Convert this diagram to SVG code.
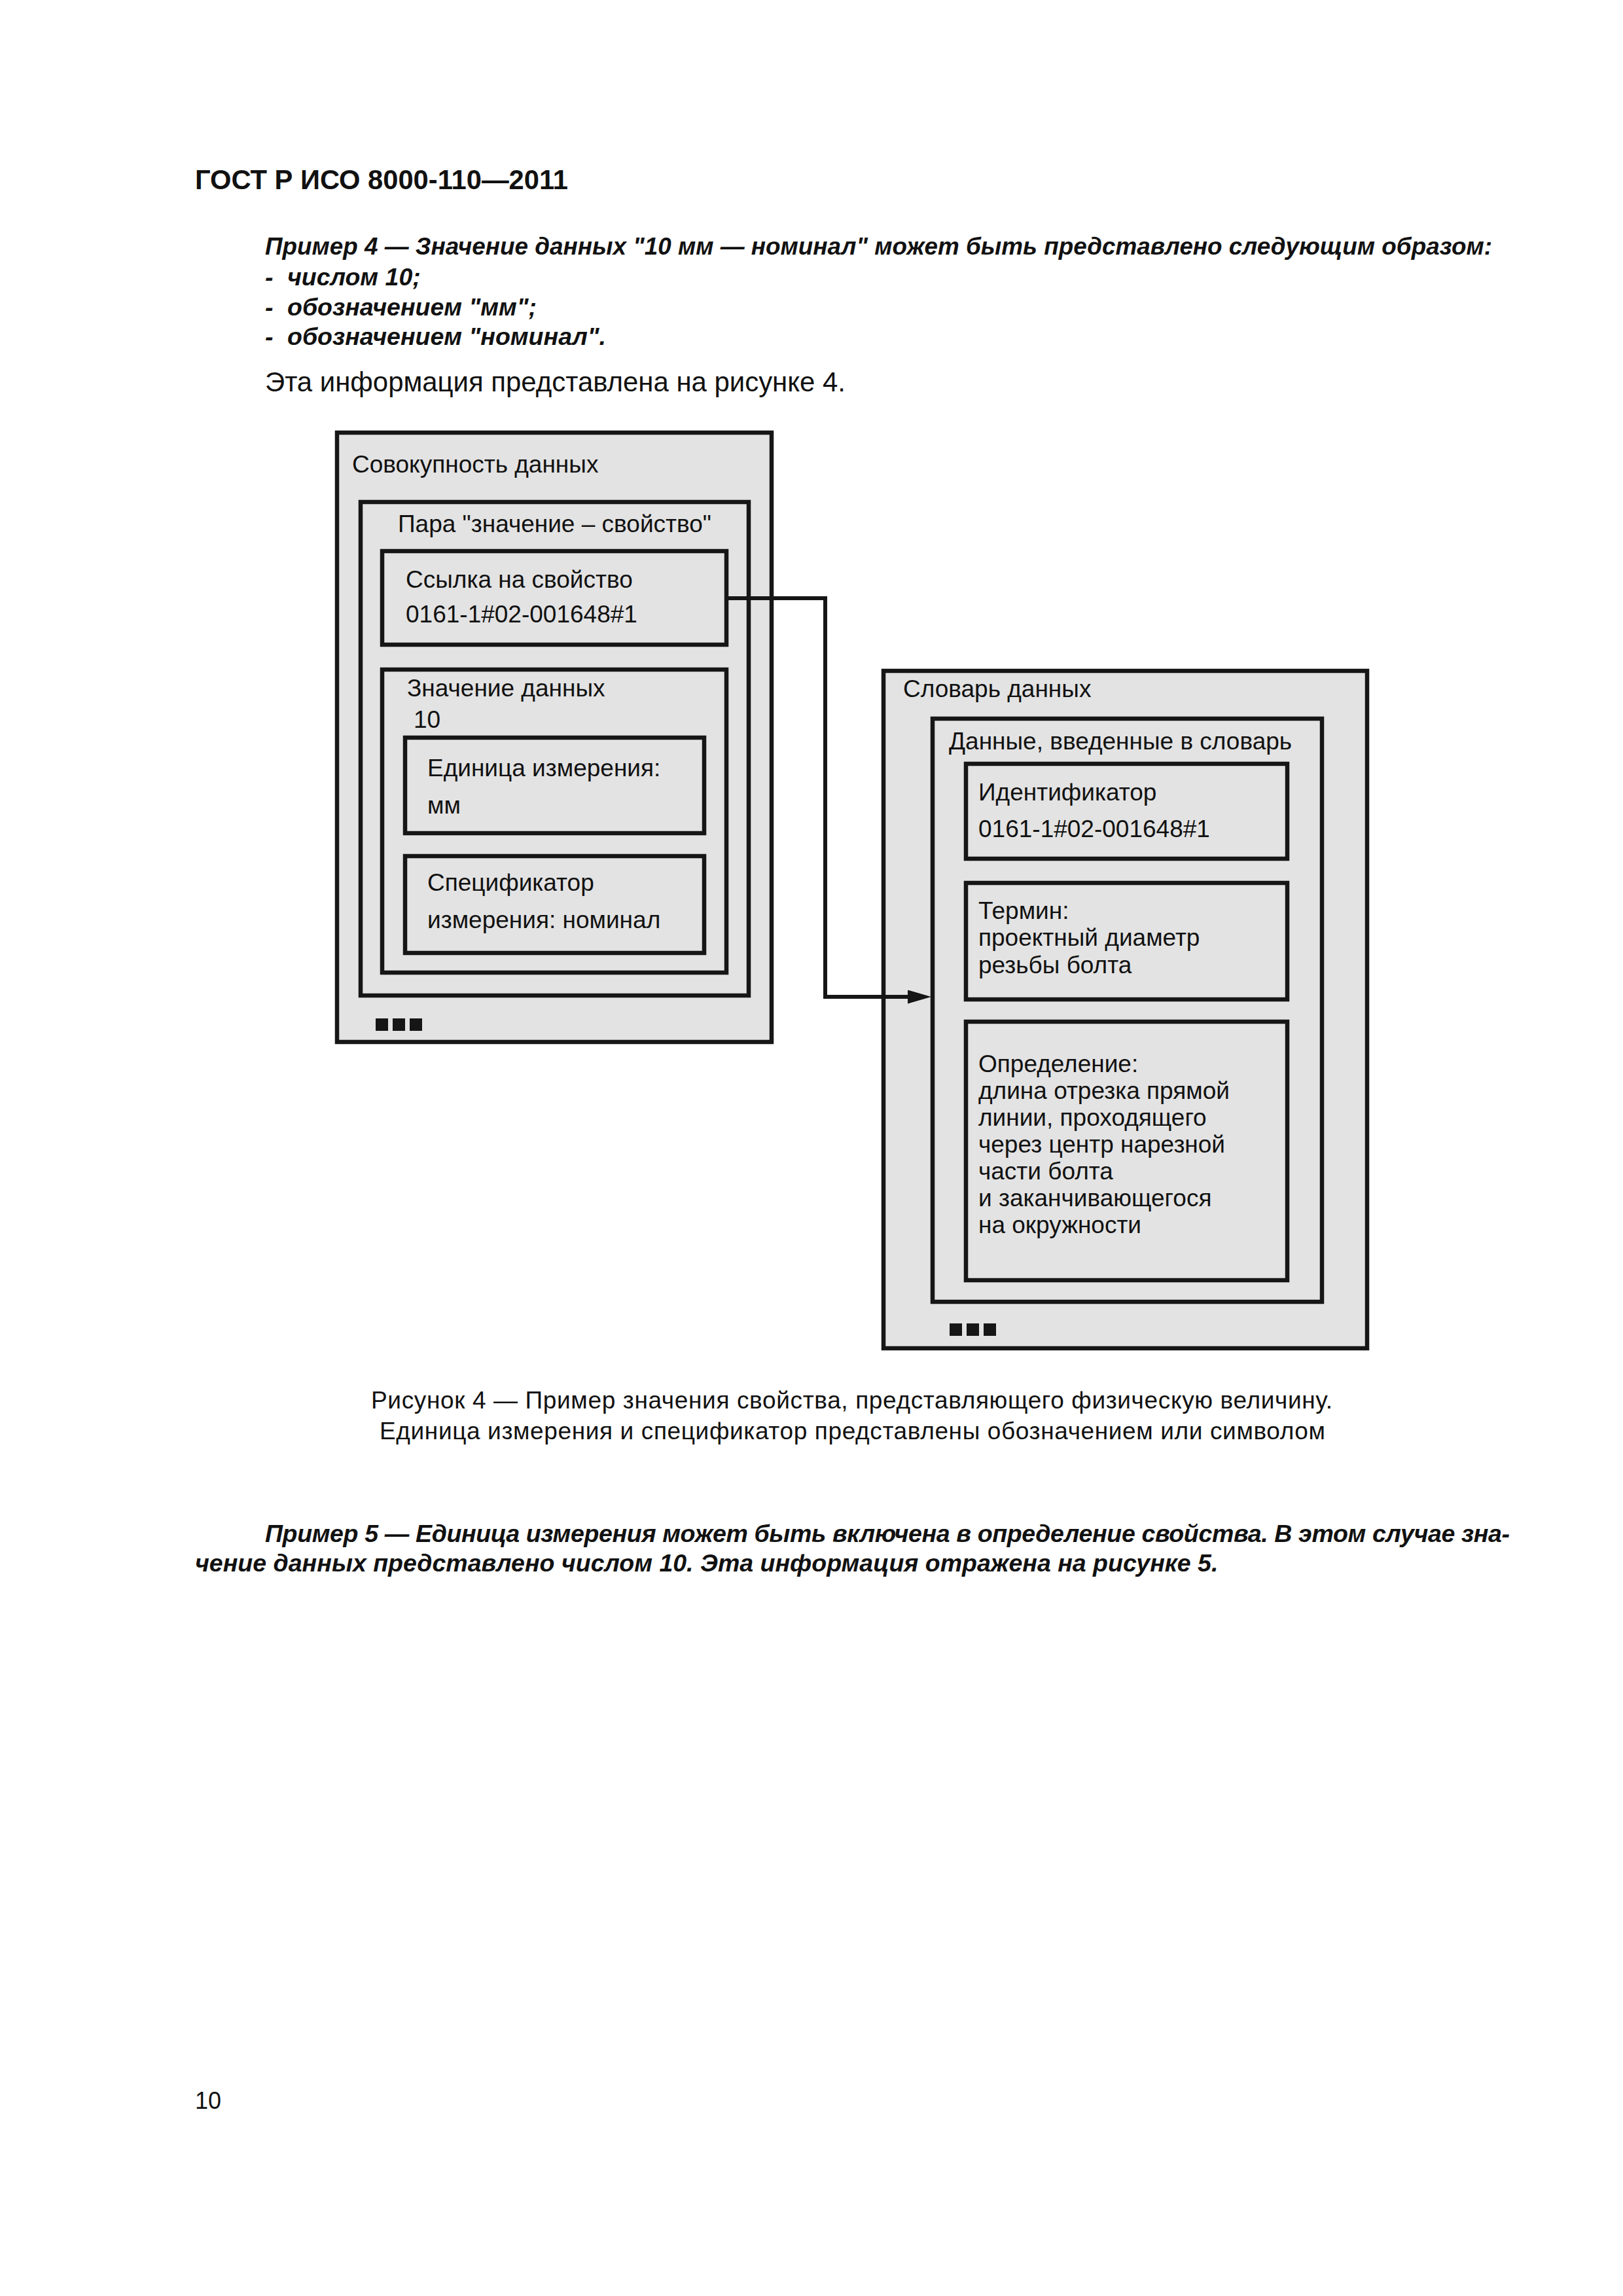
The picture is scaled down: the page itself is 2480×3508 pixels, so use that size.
<svg xmlns="http://www.w3.org/2000/svg" width="2480" height="3508" viewBox="0 0 2480 3508">
<style>
.bx{fill:#e3e3e3;stroke:#161616;stroke-width:6.5}
.t{font-family:"Liberation Sans",Arial,sans-serif;font-size:37px;fill:#111}
.b{font-family:"Liberation Sans",Arial,sans-serif;font-size:41.7px;font-weight:bold;fill:#111}
.bi{font-family:"Liberation Sans",Arial,sans-serif;font-size:37.5px;font-weight:bold;font-style:italic;fill:#111}
.r{font-family:"Liberation Sans",Arial,sans-serif;font-size:41.7px;fill:#111}
.sq{fill:#161616}
.cn{fill:none;stroke:#161616;stroke-width:6}
</style>
<defs>
<marker id="ah" viewBox="0 0 36 21" refX="3" refY="10.5" markerWidth="36" markerHeight="21" markerUnits="userSpaceOnUse" orient="auto">
<path d="M0,0 L36,10.5 L0,21 z" fill="#161616"/>
</marker>
</defs>
<rect width="2480" height="3508" fill="#ffffff"/>

<g id="page-text">
<text class="b" x="298" y="289">ГОСТ Р ИСО 8000-110—2011</text>
<text class="bi" x="405" y="389" textLength="1875" lengthAdjust="spacingAndGlyphs">Пример 4 — Значение данных "10 мм — номинал" может быть представлено следующим образом:</text>
<text class="bi" x="405" y="436">-<tspan x="439">числом 10;</tspan></text>
<text class="bi" x="405" y="482">-<tspan x="439">обозначением "мм";</tspan></text>
<text class="bi" x="405" y="527">-<tspan x="439">обозначением "номинал".</tspan></text>
<text class="r" x="405" y="598" textLength="887" lengthAdjust="spacingAndGlyphs">Эта информация представлена на рисунке 4.</text>
</g>

<g id="node-sovokupnost">
<rect class="bx" x="515" y="661" width="664" height="931"/>
<text class="t" x="538" y="722">Совокупность данных</text>
<rect class="sq" x="574" y="1556" width="19" height="19"/>
<rect class="sq" x="600" y="1556" width="19" height="19"/>
<rect class="sq" x="626" y="1556" width="19" height="19"/>
</g>
<g id="node-para">
<rect class="bx" x="551" y="767" width="593" height="754"/>
<text class="t" x="608" y="813">Пара "значение – свойство"</text>
</g>
<g id="node-ssylka">
<rect class="bx" x="584" y="842" width="526" height="143"/>
<text class="t" x="620" y="898">Ссылка на свойство</text>
<text class="t" x="620" y="951">0161-1#02-001648#1</text>
</g>
<g id="node-znachenie">
<rect class="bx" x="584" y="1023" width="526" height="463"/>
<text class="t" x="622" y="1064">Значение данных</text>
<text class="t" x="632" y="1112">10</text>
</g>
<g id="node-edinica">
<rect class="bx" x="619" y="1127" width="457" height="146"/>
<text class="t" x="653" y="1186">Единица измерения:</text>
<text class="t" x="653" y="1243">мм</text>
</g>
<g id="node-specifikator">
<rect class="bx" x="619" y="1308" width="457" height="148"/>
<text class="t" x="653" y="1361">Спецификатор</text>
<text class="t" x="653" y="1418">измерения: номинал</text>
</g>

<g id="node-slovar">
<rect class="bx" x="1350" y="1025" width="739" height="1035"/>
<text class="t" x="1380" y="1065">Словарь данных</text>
<rect class="sq" x="1451" y="2022" width="19" height="19"/>
<rect class="sq" x="1477" y="2022" width="19" height="19"/>
<rect class="sq" x="1503" y="2022" width="19" height="19"/>
</g>
<g id="node-dannye">
<rect class="bx" x="1425" y="1098" width="595" height="891"/>
<text class="t" x="1450" y="1145">Данные, введенные в словарь</text>
</g>
<g id="node-identifikator">
<rect class="bx" x="1476" y="1167" width="491" height="145"/>
<text class="t" x="1495" y="1223">Идентификатор</text>
<text class="t" x="1495" y="1279">0161-1#02-001648#1</text>
</g>
<g id="node-termin">
<rect class="bx" x="1476" y="1349" width="491" height="178"/>
<text class="t" x="1495" y="1404">Термин:</text>
<text class="t" x="1495" y="1445">проектный диаметр</text>
<text class="t" x="1495" y="1487">резьбы болта</text>
</g>
<g id="node-opredelenie">
<rect class="bx" x="1476" y="1561" width="491" height="395"/>
<text class="t" x="1495" y="1638">Определение:</text>
<text class="t" x="1495" y="1679">длина отрезка прямой</text>
<text class="t" x="1495" y="1720">линии, проходящего</text>
<text class="t" x="1495" y="1761">через центр нарезной</text>
<text class="t" x="1495" y="1802">части болта</text>
<text class="t" x="1495" y="1843">и заканчивающегося</text>
<text class="t" x="1495" y="1884">на окружности</text>
</g>

<g id="connectors">
<path class="cn" d="M1113,914 H1261 V1523 H1390" marker-end="url(#ah)"/>
</g>

<g id="caption-text">
<text class="t" x="567" y="2152" textLength="1469" lengthAdjust="spacing">Рисунок 4 — Пример значения свойства, представляющего физическую величину.</text>
<text class="t" x="580" y="2199" textLength="1445" lengthAdjust="spacing">Единица измерения и спецификатор представлены обозначением или символом</text>
<text class="bi" x="405" y="2356" textLength="1902" lengthAdjust="spacing">Пример 5 — Единица измерения может быть включена в определение свойства. В этом случае зна-</text>
<text class="bi" x="298" y="2401">чение данных представлено числом 10. Эта информация отражена на рисунке 5.</text>
<text class="r" x="298" y="3222" style="font-size:36px">10</text>
</g>
</svg>
